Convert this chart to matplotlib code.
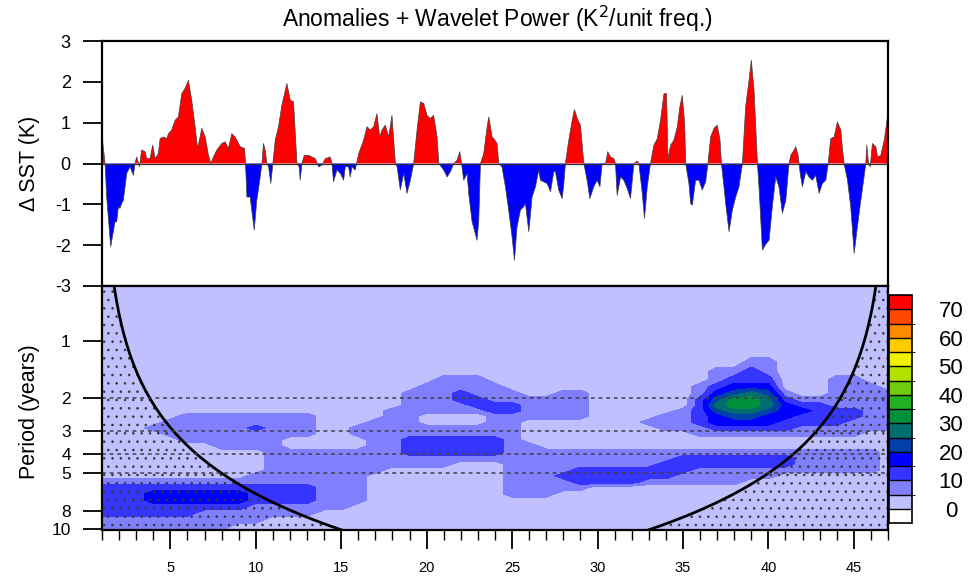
import numpy as np
import matplotlib
matplotlib.use("Agg")
import matplotlib.pyplot as plt
from matplotlib.colors import ListedColormap, BoundaryNorm
from matplotlib.ticker import FixedLocator, MultipleLocator, NullLocator

plt.rcParams['font.family'] = ['Liberation Sans', 'DejaVu Sans']
plt.rcParams['hatch.color'] = '#383838'
plt.rcParams['hatch.linewidth'] = 0.6

# ---------------- data: SST anomaly series (years, K) ----------------
years = [1.00, 1.18, 1.27, 1.51, 1.76, 1.86, 1.96, 2.05, 2.15, 2.25, 2.45, 2.64, 2.84, 2.93,
         3.03, 3.19, 3.32, 3.52, 3.62, 3.81, 3.97, 4.11, 4.30, 4.40, 4.59, 4.79, 4.89, 5.08,
         5.28, 5.47, 5.67, 5.86, 6.06, 6.25, 6.45, 6.59, 6.74, 6.84, 7.04, 7.23, 7.37, 7.52,
         7.72, 8.01, 8.21, 8.40, 8.60, 8.79, 9.09, 9.34, 9.40, 9.48, 9.67, 9.91, 10.06, 10.26,
         10.36, 10.45, 10.55, 10.65, 10.75, 10.88, 11.00, 11.14, 11.33, 11.53, 11.82, 12.02,
         12.21, 12.41, 12.54, 12.60, 12.70, 12.84, 13.09, 13.29, 13.48, 13.68, 13.87, 14.07,
         14.36, 14.46, 14.55, 14.75, 14.95, 15.14, 15.24, 15.43, 15.53, 15.63, 15.82, 16.02,
         16.31, 16.51, 16.70, 16.90, 17.09, 17.25, 17.39, 17.58, 17.78, 17.97, 18.17, 18.27,
         18.46, 18.66, 18.85, 19.05, 19.24, 19.44, 19.63, 19.83, 20.02, 20.22, 20.41, 20.61,
         20.71, 21.00, 21.20, 21.39, 21.59, 21.78, 21.94, 22.04, 22.17, 22.37, 22.46, 22.66,
         22.95, 23.05, 23.15, 23.34, 23.54, 23.64, 23.83, 23.93, 24.12, 24.22,
         24.41, 24.61, 24.80, 25.00, 25.14, 25.29, 25.49, 25.68, 25.78, 25.98, 26.17, 26.37,
         26.56, 26.66, 26.86, 27.05, 27.25, 27.44, 27.54, 27.73, 27.93, 28.03, 28.12, 28.32,
         28.52, 28.65, 28.85, 29.00, 29.20, 29.39, 29.55, 29.78, 29.98, 30.14, 30.27, 30.47,
         30.60, 30.76, 30.96, 31.05, 31.15, 31.35, 31.54, 31.74, 31.93, 32.13, 32.32, 32.42,
         32.62, 32.75, 32.91, 33.10, 33.30, 33.50, 33.69, 33.89, 34.04, 34.12, 34.28, 34.47,
         34.67, 34.82, 34.96, 35.10, 35.16, 35.35, 35.45, 35.55, 35.74, 35.94, 36.13, 36.33,
         36.46, 36.62, 36.82, 37.01, 37.17, 37.25, 37.40, 37.50, 37.70, 37.89, 38.09, 38.28,
         38.48, 38.67, 38.87, 39.00, 39.16, 39.36, 39.45, 39.65, 39.84, 40.04, 40.23, 40.43,
         40.62, 40.82, 41.02, 41.21, 41.31, 41.50, 41.60, 41.74, 41.86, 41.99, 42.19, 42.38,
         42.58, 42.77, 42.97, 43.16, 43.36, 43.50, 43.65, 43.85, 44.04, 44.24, 44.34, 44.43,
         44.63, 44.82, 45.02, 45.21, 45.41, 45.60, 45.70, 45.76, 45.86, 45.96, 46.09, 46.29,
         46.39, 46.58, 46.78, 46.97, 47.00]
sst_anom = [0.68, 0.0, -0.80, -2.04, -1.43, -1.43, -1.06, -1.10, -0.98, -0.90, -0.24, -0.08, -0.29, 0.0,
            0.16, -0.08, 0.33, 0.29, 0.12, 0.12, 0.45, 0.12, 0.24, 0.61, 0.65, 0.61, 0.73, 0.82,
            1.06, 1.14, 1.71, 1.84, 2.04, 1.55, 0.90, 0.37, 0.65, 0.86, 0.65, 0.20, 0.0, 0.16,
            0.33, 0.49, 0.53, 0.37, 0.73, 0.65, 0.41, 0.37, 0.0, -0.82, -0.82, -1.63, -0.90, -0.33,
            0.0, 0.49, 0.33, 0.0, -0.08, -0.49, 0.0, 0.57, 0.90, 1.43, 1.96, 1.55,
            1.51, 0.0, -0.08, -0.41, 0.0, 0.20, 0.20, 0.16, 0.12, -0.08, -0.04, 0.12,
            0.16, 0.0, -0.45, -0.16, -0.24, -0.41, -0.08, -0.08, -0.33, -0.08, -0.16, 0.24,
            0.57, 0.90, 0.82, 0.90, 1.22, 0.65, 0.82, 0.94, 0.65, 1.18, 0.0, -0.08,
            -0.65, -0.24, -0.73, -0.41, 0.0, 0.82, 1.51, 1.47, 1.18, 1.10, 1.18, 0.65,
            0.0, -0.16, -0.33, -0.20, 0.0, 0.08, 0.29, 0.0, -0.41, -0.24, -0.73, -1.43,
            -1.88, -1.39, 0.0, 0.24, 0.90, 1.14, 0.65, 0.61, 0.49, 0.0,
            -0.08, -0.57, -1.14, -1.80, -2.37, -1.55, -1.14, -1.06, -0.98, -1.67, -0.82, -0.57,
            -0.16, -0.41, -0.45, -0.49, -0.69, -0.20, -0.20, -0.65, -0.86, -0.49, 0.0, 0.57,
            1.06, 1.32, 1.06, 0.94, 0.0, -0.41, -0.86, -0.57, -0.41, -0.57, 0.0, 0.0,
            0.29, 0.16, 0.12, 0.0, -0.78, -0.33, -0.41, -0.61, -0.86, 0.0, 0.06, 0.0,
            -0.73, -1.35, -0.57, 0.0, 0.45, 0.61, 1.06, 1.71, 1.71, 0.12, 0.45, 0.57,
            0.90, 1.39, 1.67, 0.98, 0.0, -0.49, -0.98, -1.02, -0.41, -0.41, -0.65, -0.45,
            0.0, 0.65, 0.86, 0.94, 0.57, 0.0, -0.57, -0.98, -1.67, -1.14, -0.82, -0.57,
            0.0, 1.39, 2.04, 2.53, 1.80, 0.0, -0.57, -2.12, -1.98, -1.88, -1.06, -0.33,
            -0.57, -1.22, -0.90, 0.0, 0.20, 0.33, 0.41, 0.20, -0.24, -0.57, -0.20, -0.33,
            -0.41, -0.29, -0.73, -0.49, -0.41, 0.0, 0.61, 0.65, 1.02, 0.82, 0.33, 0.0,
            -0.41, -1.06, -2.20, -1.55, -0.90, -0.33, 0.0, 0.45, 0.0, -0.08, 0.49, 0.41,
            0.16, 0.20, 0.57, 1.14, 1.18]

# ---------------- data: wavelet power (read as 5-unit bands) ----------------
grid_years = list(range(1, 48))
grid_periods = [0.5, 0.7, 1.0, 1.15, 1.3, 1.45, 1.6, 1.75, 1.9, 2.05, 2.2, 2.35, 2.5, 2.7,
                2.9, 3.1, 3.35, 3.6, 3.9, 4.2, 4.5, 4.85, 5.2, 5.6, 6.0, 6.5, 7.0, 7.6,
                8.2, 8.9, 9.7, 10.7]
# band k means power between 5k and 5k+5 (K^2/unit freq.); one row per period, one char per year
power_bands = [
    "0000000000 0000000000 0000000000 0000000000 0000000",  # 0.5
    "0000000000 0000000000 0000000000 0000000000 0000000",  # 0.7
    "0000000000 0000000000 0000000000 0000000000 0000000",  # 1.0
    "0000000000 0000000000 0000000000 0000000000 0000000",  # 1.15
    "0000000000 0000000000 0000000000 0000000011 0000000",  # 1.3
    "0000000000 0000000000 0000000000 0000001121 0000000",  # 1.45
    "0000000000 0000000000 1110000000 0000001222 0001100",  # 1.6
    "0000000000 0000000001 1111000000 0000012333 0001110",  # 1.75
    "0000000000 0000000011 1211100110 0000013454 1001111",  # 1.9
    "0000000000 0000000011 1221111110 0000024665 2111111",  # 2.05
    "0000000000 0000000011 1122211110 0000025665 3221111",  # 2.2
    "0000000000 0000000111 1112211110 0000124554 3322211",  # 2.35
    "0000011111 1110000110 0001111110 0001123443 3222211",  # 2.5
    "0000111111 1110001110 0001100000 0011123333 2222111",  # 2.7
    "0001111112 1110011111 1111100000 0001112222 2111111",  # 2.9
    "0000111111 1110011111 1111100000 0000011111 1111100",  # 3.1
    "0000011111 1000001122 2222100000 0000000000 0000000",  # 3.35
    "0000000111 1000001122 2222110000 0000000000 0000000",  # 3.6
    "0000000000 1111111122 2222111111 1111111111 1111110",  # 3.9
    "0000000000 1111111111 1111111111 1111222222 2111110",  # 4.2
    "0000000000 1111111111 1000111111 1112222222 2111110",  # 4.5
    "0000000000 1111111000 0000111122 2222211111 1111110",  # 4.85
    "0000000001 1111110000 0000111222 2222111111 0000000",  # 5.2
    "1111111111 1111110000 0000111122 2211111100 0000000",  # 5.6
    "2222222222 2221110000 0000111110 0000000000 0000000",  # 6.0
    "2223333332 2221110000 0000111000 0000000000 0000000",  # 6.5
    "2223333332 2221110000 0000000000 0000000000 0000000",  # 7.0
    "2222222221 1111100000 0000000000 0000000000 0000000",  # 7.6
    "2222221111 1110000000 0000000000 0000000000 0000000",  # 8.2
    "1111111111 0000000000 0000000000 0000000000 0000000",  # 8.9
    "1111111100 0000000000 0000000000 0000000000 0000000",  # 9.7
    "1111111000 0000000000 0000000000 0000000000 0000000",  # 10.7
]

levels = list(range(0, 75, 5))
level_colors = ['#c0c0ff', '#8080ff', '#3535ff', '#0000ff', '#0040a8', '#006e6e', '#00903c',
                '#20b020', '#70cc10', '#b4e000', '#f0f000', '#ffcc00', '#ff8c00', '#ff4800']
under_color = '#ffffff'
over_color = '#ff0000'
cbar_ticks = [0, 10, 20, 30, 40, 50, 60, 70]
sst_ticks = [-3, -2, -1, 0, 1, 2, 3]
period_ticks = [1, 2, 3, 4, 5, 8, 10]
ref_periods = [2, 3, 4, 5]
coi_factor = 0.72
t_start, t_end = 1.0, 47.0

# ---------------- figure ----------------
W, H = 972, 577
fig = plt.figure(figsize=(W / 100, H / 100), dpi=100)
ax1 = fig.add_axes([102 / W, 1 - 286 / H, 786 / W, 245 / H])
ax2 = fig.add_axes([102 / W, 1 - 530 / H, 786 / W, 244 / H])
cax = fig.add_axes([889 / W, 1 - 523 / H, 23 / W, 228 / H])

yr = np.array(years)
sa = np.array(sst_anom)
ax1.fill_between(yr, sa, 0, where=sa >= 0, interpolate=True, color='#ff0000', lw=0)
ax1.fill_between(yr, sa, 0, where=sa <= 0, interpolate=True, color='#0000ff', lw=0)
ax1.plot(yr, sa, color='#404040', lw=0.5)
ax1.axhline(0, color='#303030', lw=0.9)
ax1.set_xlim(t_start, t_end)
ax1.set_ylim(-3, 3)
ax1.set_yticks(sst_ticks)
ax1.set_yticklabels([str(v) for v in sst_ticks])
ax1.tick_params(axis='y', direction='out', length=13.5, width=1.3, labelsize=13, pad=9)
ax1.tick_params(axis='x', bottom=False, labelbottom=False)
for s in ax1.spines.values():
    s.set_linewidth(1.6)

# wavelet power
power = np.array([[(int(c) + 0.5) * 5 for c in row.replace(' ', '')] for row in power_bands])
cmap = ListedColormap(level_colors)
cmap.set_under(under_color)
cmap.set_over(over_color)
norm = BoundaryNorm(levels, cmap.N)
cs = ax2.contourf(grid_years, grid_periods, power, levels=levels, cmap=cmap, norm=norm,
                  extend='both')

# cone of influence + stippling
t_fine = np.linspace(t_start, t_end, 600)
coi = np.maximum(coi_factor * np.minimum(t_fine - t_start, t_end - t_fine), 0.05)
ax2.fill_between(t_fine, coi, 100, facecolor='none', edgecolor='#383838', hatch='..', lw=0)
ax2.plot(t_fine, coi, color='k', lw=2.0)
for p in ref_periods:
    ax2.axhline(p, color='#404040', lw=1.1, dashes=(2.5, 2.5))

ax2.set_yscale('log')
ax2.set_ylim(10.1, 0.51)
ax2.set_xlim(t_start, t_end)
ax2.yaxis.set_major_locator(FixedLocator(period_ticks))
ax2.yaxis.set_minor_locator(NullLocator())
ax2.set_yticklabels([str(v) for v in period_ticks])
ax2.xaxis.set_major_locator(MultipleLocator(5))
ax2.xaxis.set_minor_locator(MultipleLocator(1))
ax2.tick_params(axis='y', which='both', direction='out', length=13.5, width=1.3, labelsize=12.5, pad=9)
ax2.tick_params(axis='x', which='major', direction='out', length=13.5, width=1.3, labelsize=10.5, pad=9)
ax2.tick_params(axis='x', which='minor', direction='out', length=7, width=1.0)
for s in ax2.spines.values():
    s.set_linewidth(1.6)

cb = fig.colorbar(cs, cax=cax, ticks=cbar_ticks, drawedges=True, extendrect=True,
                  extendfrac=1 / 14)
cb.outline.set_linewidth(1.2)
cb.dividers.set_color('k')
cb.dividers.set_linewidth(1.0)
cax.tick_params(length=0, labelsize=16, pad=28)
for lab in cax.get_yticklabels():
    lab.set_horizontalalignment('center')

fig.text(497 / W, 1 - 19 / H, 'Anomalies + Wavelet Power (K$^2$/unit freq.)',
         ha='center', va='center', fontsize=16.5)
fig.text(30 / W, 1 - 163 / H, 'Δ SST (K)', rotation=90, ha='center', va='center', fontsize=15.5)
fig.text(30 / W, 1 - 412 / H, 'Period (years)', rotation=90, ha='center', va='center', fontsize=15.5)

fig.savefig('out.png', dpi=100)
